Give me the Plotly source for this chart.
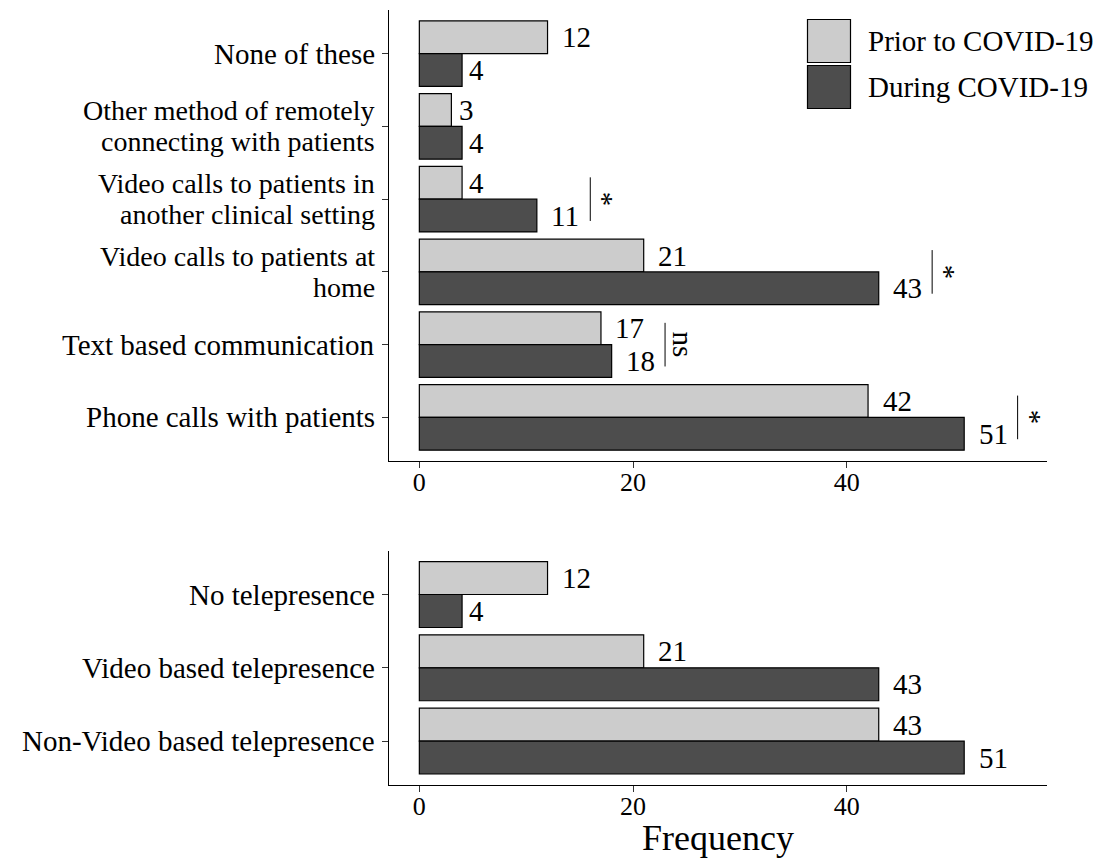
import plotly.graph_objects as go

# ---------------- data ----------------
top_categories = [
    "Phone calls with patients",
    "Text based communication",
    "Video calls to patients at<br>home",
    "Video calls to patients in<br>another clinical setting",
    "Other method of remotely<br>connecting with patients",
    "None of these",
]
top_prior = [42, 17, 21, 4, 3, 12]
top_during = [51, 18, 43, 11, 4, 4]
top_sig = ["*", "ns", "*", "*", "", ""]

bottom_categories = [
    "Non-Video based telepresence",
    "Video based telepresence",
    "No telepresence",
]
bottom_prior = [43, 21, 12]
bottom_during = [51, 43, 4]

series_names = ["Prior to COVID-19", "During COVID-19"]
x_ticks = [0, 20, 40]

# ---------------- style ----------------
FONT = "Liberation Serif"
C_PRIOR = "#cccccc"
C_DURING = "#4d4d4d"
BAR_W = 0.45
LBL_SIZE = 29
TICK_SIZE = 29
LINE_GAP = 31
XRANGE = [-2.84, 58.75]
SIG_PAD = 5
BODY = 8  # default page margin of the html body

W, H = 1099, 850
ML, MR, MT, MB = 381, 60, 2, 73
plot_w = W - ML - MR
plot_h = H - MT - MB


def px_x(px):
    """page pixel -> paper x"""
    return (px - BODY - ML) / plot_w


def px_y(py):
    """page pixel -> paper y"""
    return (BODY + H - MB - py) / plot_h


fig = go.Figure()


def add_panel(cats, prior, during, xa, ya):
    idx = list(range(len(cats)))
    fig.add_trace(go.Bar(
        y=idx, x=prior, orientation="h", width=BAR_W, offset=0,
        marker=dict(color=C_PRIOR, line=dict(color="black", width=1.2)),
        name=series_names[0], showlegend=False, xaxis=xa, yaxis=ya,
        hoverinfo="x+name"))
    fig.add_trace(go.Bar(
        y=idx, x=during, orientation="h", width=BAR_W, offset=-BAR_W,
        marker=dict(color=C_DURING, line=dict(color="black", width=1.2)),
        name=series_names[1], showlegend=False, xaxis=xa, yaxis=ya,
        hoverinfo="x+name"))
    for i, (p, d) in enumerate(zip(prior, during)):
        for v, yy in ((p, i + BAR_W / 2), (d, i - BAR_W / 2)):
            fig.add_annotation(
                x=v, y=yy, xref=xa, yref=ya, text=str(v),
                showarrow=False, xanchor="left", yanchor="middle",
                xshift=LBL_SIZE * 0.25 * len(str(v)) - 2,
                font=dict(family=FONT, size=LBL_SIZE, color="black"))
    # category labels (tight line spacing like the reference)
    for i, c in enumerate(cats):
        lines = c.split("<br>")
        n = len(lines)
        size = TICK_SIZE if n == 1 else 28
        for k, ln in enumerate(lines):
            fig.add_annotation(
                x=px_x(376), y=i, xref="paper", yref=ya, text=ln,
                showarrow=False, xanchor="right", yanchor="middle",
                yshift=(n - 1) / 2 * LINE_GAP - k * LINE_GAP,
                borderpad=0,
                font=dict(family=FONT, size=size, color="black"))


add_panel(top_categories, top_prior, top_during, "x", "y")
add_panel(bottom_categories, bottom_prior, bottom_during, "x2", "y2")

# significance brackets
for i, s in enumerate(top_sig):
    if not s:
        continue
    xl = max(top_prior[i], top_during[i]) + SIG_PAD
    fig.add_shape(type="line", xref="x", yref="y", x0=xl, x1=xl,
                  y0=i - 0.3, y1=i + 0.3,
                  line=dict(color="black", width=1))
    fig.add_annotation(
        x=xl, y=i, xref="x", yref="y", text=s, showarrow=False,
        textangle=90, xanchor="left", yanchor="middle",
        xshift=-4 if s == "*" else 1, borderpad=0,
        font=dict(family=FONT, size=TICK_SIZE, color="black"))

# legend (large key boxes as in the reference)
legend_boxes = [(19.5, 62.5), (65.5, 108.5)]
for (y0, y1), col, name in zip(legend_boxes, [C_PRIOR, C_DURING], series_names):
    fig.add_shape(type="rect", xref="paper", yref="paper",
                  x0=px_x(807.5), x1=px_x(850.5), y0=px_y(y1), y1=px_y(y0),
                  fillcolor=col, line=dict(color="black", width=1.2))
    fig.add_annotation(x=px_x(866), y=px_y((y0 + y1) / 2), xref="paper",
                       yref="paper", text=name, showarrow=False,
                       xanchor="left", yanchor="middle",
                       font=dict(family=FONT, size=29, color="black"))

axis_common = dict(
    showline=True, linecolor="black", linewidth=1.2, showgrid=False,
    zeroline=False, ticks="outside", ticklen=6, tickcolor="#333333",
    tickwidth=1.2,
)
fig.update_layout(
    width=W, height=H, margin=dict(l=ML, r=MR, t=MT, b=MB),
    paper_bgcolor="white", plot_bgcolor="white",
    barmode="overlay", showlegend=False,
    font=dict(family=FONT, size=TICK_SIZE, color="black"),
    xaxis=dict(domain=[0, 1], anchor="y", range=XRANGE, tickvals=x_ticks,
               tickfont=dict(size=26), ticklabelstandoff=-8, **axis_common),
    yaxis=dict(domain=[0.418, 1.0], anchor="x", range=[-0.6, 5.6],
               tickvals=list(range(len(top_categories))),
               showticklabels=False, **axis_common),
    xaxis2=dict(domain=[0, 1], anchor="y2", range=XRANGE, tickvals=x_ticks,
                tickfont=dict(size=26), ticklabelstandoff=-8,
                title=dict(text="Frequency", font=dict(size=36), standoff=4),
                **axis_common),
    yaxis2=dict(domain=[0, 0.3025], anchor="x2", range=[-0.6, 2.6],
                tickvals=list(range(len(bottom_categories))),
                showticklabels=False, **axis_common),
)

fig.write_html("out.html")
